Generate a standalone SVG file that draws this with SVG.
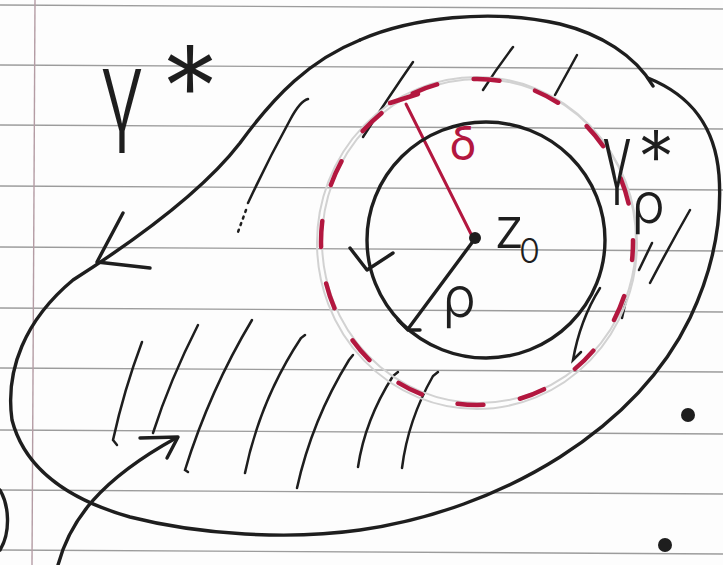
<svg xmlns="http://www.w3.org/2000/svg" width="723" height="565" viewBox="0 0 723 565">
<style>
.rule{stroke:#9c9c9c;stroke-width:1.4;fill:none}
.margin{stroke:#b49ca4;stroke-width:1.4;fill:none}
.ink{stroke:#1e1e1e;stroke-width:3.4;fill:none;stroke-linecap:round;stroke-linejoin:round}
.hatch{stroke:#1e1e1e;stroke-width:2.5;fill:none;stroke-linecap:round}
.red{stroke:#b3173f;fill:none;stroke-linecap:round}
.pencil{stroke:#d2d2d2;stroke-width:2;fill:none}
.t{font-family:Inter,"Open Sans","DejaVu Sans",sans-serif;font-weight:300;fill:#1e1e1e}
</style>
<rect width="723" height="565" fill="#fdfdfd"/>
<g id="paper">
<line class="rule" x1="0" y1="5" x2="723" y2="9"/>
<line class="rule" x1="0" y1="65" x2="723" y2="69"/>
<line class="rule" x1="0" y1="125" x2="723" y2="129"/>
<line class="rule" x1="0" y1="186" x2="723" y2="190"/>
<line class="rule" x1="0" y1="247" x2="723" y2="251"/>
<line class="rule" x1="0" y1="308" x2="723" y2="312"/>
<line class="rule" x1="0" y1="368" x2="723" y2="372"/>
<line class="rule" x1="0" y1="430" x2="723" y2="434"/>
<line class="rule" x1="0" y1="490" x2="723" y2="494"/>
<line class="rule" x1="0" y1="550" x2="723" y2="554"/>
<line class="margin" x1="35" y1="0" x2="32" y2="565"/>
</g>
<g id="hatching">
<path class="hatch" d="M308 99 Q300 101 290 120 Q268 160 248 203"/>
<path class="hatch" d="M246 210 L238 232" stroke-dasharray="2 5" stroke="#888"/>
<path class="hatch" d="M413 62 Q390 95 363 137"/>
<path class="hatch" d="M513 47 Q497 68 483 90"/>
<path class="hatch" d="M577 55 Q566 75 555 95"/>
<path class="hatch" d="M690 210 Q670 245 650 283"/>
<path class="hatch" d="M652 243 L639 270"/>
<path class="hatch" d="M600 288 Q580 320 573 360 L581 352"/>
<path class="hatch" d="M626 300 L622 318"/>
<path class="hatch" d="M142 342 Q124 390 113 440 L117 445"/>
<path class="hatch" d="M198 325 Q170 380 153 433"/>
<path class="hatch" d="M252 320 Q210 390 185 470 L188 472"/>
<path class="hatch" d="M305 335 L301 338 Q260 400 245 473"/>
<path class="hatch" d="M353 355 L349 360 Q312 420 297 488"/>
<path class="hatch" d="M398 372 L393 376 Q365 420 358 467"/>
<path class="hatch" d="M438 372 L433 376 Q408 420 402 468"/>
</g>
<g id="disc-delta">
<ellipse class="pencil" cx="477" cy="243" rx="160" ry="166"/>
<ellipse class="pencil" cx="479" cy="241" rx="157" ry="162" stroke="#e2e2e2"/>
<ellipse class="red" cx="477" cy="242" rx="156" ry="163" stroke-width="4.5" stroke-dasharray="26 37" stroke-dashoffset="8"/>
<line class="red" x1="473" y1="238" x2="406" y2="104" stroke-width="3"/>
<line class="red" x1="390" y1="103" x2="418" y2="94" stroke-width="4.5"/>
<text x="463" y="160" text-anchor="middle" font-family="Inter,'Open Sans','DejaVu Sans',sans-serif" font-weight="400" font-size="46" fill="#b3173f">δ</text>
</g>
<g id="circle-rho">
<ellipse class="ink" cx="486" cy="240" rx="119" ry="118" stroke-width="3.8"/>
<path class="ink" d="M350 248 L367 270 L393 253"/>
<line class="ink" x1="474" y1="240" x2="408" y2="329"/>
<path class="ink" d="M398 320 L408 330 L420 330"/>
<circle cx="475" cy="238" r="6" fill="#1e1e1e"/>
<text class="t" x="494" y="248" font-size="56">z<tspan font-size="34" x="519" y="263">0</tspan></text>
<text class="t" x="459" y="317" font-size="56" text-anchor="middle">ρ</text>
</g>
<g id="curve-gamma">
<path class="ink" d="M360 40 C410 18 490 8 560 24 C600 34 635 55 653 86"/>
<path class="ink" d="M648 78 C690 95 715 125 719 175 C723 230 708 280 690 318 C660 380 610 425 560 457 C500 495 430 520 360 530 C290 540 200 535 130 517 C70 500 25 470 12 420 C5 370 25 320 73 280 C120 250 200 195 240 143 C275 95 310 60 360 40"/>
<path class="ink" d="M123 213 L97 262 L150 268"/>
<text class="t" x="100" y="130" font-size="112" textLength="44" lengthAdjust="spacingAndGlyphs">γ</text>
<text class="t" x="190" y="129" font-size="116" text-anchor="middle">*</text>
<text class="t" x="602" y="187" font-size="88" textLength="30" lengthAdjust="spacingAndGlyphs">γ</text>
<text class="t" x="656" y="184" font-size="74" text-anchor="middle">*</text>
<text class="t" x="648" y="223" font-size="56" text-anchor="middle">ρ</text>
</g>
<g id="connectors">
<path class="ink" d="M58 565 C70 520 100 480 176 438" stroke-width="4"/>
<path class="ink" d="M140 438 L178 437 L167 458" stroke-width="4"/>
<path class="ink" d="M0 490 C9 505 11 532 0 550"/>
</g>
<g id="points">
<circle cx="688" cy="415" r="7" fill="#1e1e1e"/>
<circle cx="665" cy="545" r="7" fill="#1e1e1e"/>
</g>
</svg>
